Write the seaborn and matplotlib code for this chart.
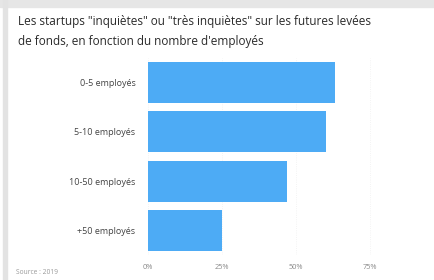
import matplotlib
matplotlib.use("Agg")
import matplotlib.pyplot as plt
import seaborn as sns
import pandas as pd
from matplotlib.patches import Rectangle
from matplotlib.ticker import FuncFormatter

categories = ["0-5 employés", "5-10 employés", "10-50 employés", "+50 employés"]
values = [63, 60, 47, 25]
xticks = [0, 25, 50, 75]

sns.set_theme(style="white")
plt.rcParams['font.family'] = ['Open Sans', 'DejaVu Sans']

df = pd.DataFrame({"cat": categories, "val": values})

fig = plt.figure(figsize=(4.34, 2.8), dpi=100)
fig.patch.set_facecolor("white")
# card border
fig.patches.append(Rectangle((0, 0.975), 1, 0.025, transform=fig.transFigure, color="#e6e6e6", zorder=0))
fig.patches.append(Rectangle((0.008, 0), 0.008, 1, transform=fig.transFigure, color="#e3e3e3", zorder=0))

ax = fig.add_axes([0.341, 0.0886, 0.58, 0.705])
sns.barplot(data=df, x="val", y="cat", color="#4dabf5", saturation=1, width=0.83, ax=ax, orient="h")
for p in ax.patches:
    p.set_edgecolor("none")
ax.set_xlim(0, 85)
ax.set_ylim(3.5, -0.5)
ax.set_xticks(xticks)
ax.xaxis.set_major_formatter(FuncFormatter(lambda v, _: f"{int(v)}%"))
ax.tick_params(axis="x", labelsize=5.3, colors="#888888", length=0, pad=6)
ax.tick_params(axis="y", labelsize=6.5, colors="#444444", length=0, pad=9)
ax.set_xlabel("")
ax.set_ylabel("")
ax.grid(axis="x", color="#f0f0f0", linewidth=0.6, linestyle=":")
ax.set_axisbelow(True)
for s in ax.spines.values():
    s.set_visible(False)

fig.text(0.042, 0.922, "Les startups \"inquiètes\" ou \"très inquiètes\" sur les futures levées",
         fontsize=8.5, color="#2a2a2a", va="center", ha="left")
fig.text(0.042, 0.85, "de fonds, en fonction du nombre d'employés",
         fontsize=8.5, color="#2a2a2a", va="center", ha="left")
fig.text(0.038, 0.028, "Source : 2019", fontsize=4.8, color="#999999", va="center", ha="left")

fig.savefig("out.png", dpi=100)
